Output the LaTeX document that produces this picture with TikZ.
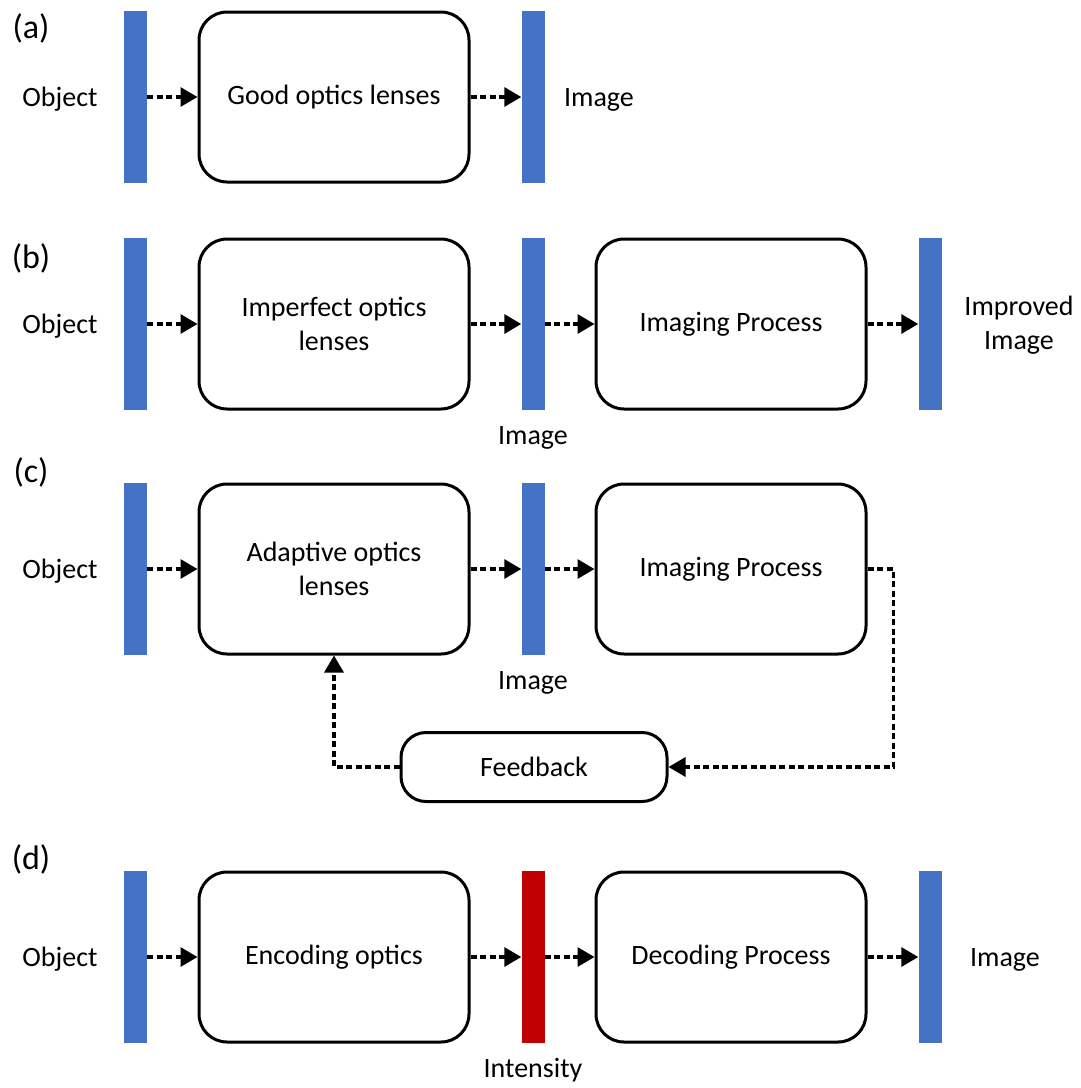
\documentclass[tikz,border=0pt]{standalone}
\usepackage{fontspec}
\setmainfont{Carlito}
\usetikzlibrary{arrows.meta}
\definecolor{barblue}{HTML}{4472C4}
\definecolor{barred}{HTML}{C00000}
\begin{document}
\begin{tikzpicture}[x=1pt,y=-1pt,
  every node/.style={font=\fontsize{28}{34}\selectfont, inner sep=0pt},
  plate/.style={fill=barblue, minimum width=23pt, minimum height=172pt},
  stage/.style={draw, line width=3pt, rounded corners=28pt,
    minimum width=270pt, minimum height=170pt, align=center},
  flow/.style={line width=3.2pt, dash pattern=on 6pt off 3.5pt,
    -{Triangle[length=17pt,width=19pt]}},
  tag/.style={anchor=base},
  panel/.style={anchor=center, font=\fontsize{34}{40}\selectfont},
]
\useasboundingbox (0,0) rectangle (1081,1088);

% (a) conventional imaging
\node[panel] (la) at (31,28) {(a)};
\node[plate] (a0) at (135.5,97) {};
\node[stage] (a1) at (334,97) {Good optics lenses};
\node[plate] (a2) at (533,97) {};
\node[tag] (ta0) at (60,106) {Object};
\node[tag] (ta2) at (599,106) {Image};
\draw[flow] (a0.east) -- (a1.west);
\draw[flow] (a1.east) -- (a2.west);

% (b) computational post-processing
\node[panel] (lb) at (31,258) {(b)};
\node[plate] (b0) at (135.5,324) {};
\node[stage] (b1) at (334,324) {Imperfect optics\\lenses};
\node[plate] (b2) at (533,324) {};
\node[stage] (b3) at (731,324) {Imaging Process};
\node[plate] (b4) at (930,324) {};
\node[tag] (tb0) at (60,333) {Object};
\node[tag] (tb2) at (533,444) {Image};
\node[align=center] (tb4) at (1019,325) {Improved\\Image};
\draw[flow] (b0.east) -- (b1.west);
\draw[flow] (b1.east) -- (b2.west);
\draw[flow] (b2.east) -- (b3.west);
\draw[flow] (b3.east) -- (b4.west);

% (c) adaptive optics with feedback loop
\node[panel] (lc) at (31,472) {(c)};
\node[plate] (c0) at (135.5,569) {};
\node[stage] (c1) at (334,569) {Adaptive optics\\lenses};
\node[plate] (c2) at (533,569) {};
\node[stage] (c3) at (731,569) {Imaging Process};
\node[tag] (tc0) at (60,578) {Object};
\node[tag] (tc2) at (533,689) {Image};
\node[draw, line width=3pt, rounded corners=25pt,
      minimum width=266pt, minimum height=69pt] (fb) at (534,767) {Feedback};
\draw[flow] (c0.east) -- (c1.west);
\draw[flow] (c1.east) -- (c2.west);
\draw[flow] (c2.east) -- (c3.west);
\draw[flow] (c3.east) -- ++(26,0) |- (fb.east);
\draw[flow] (fb.west) -| (c1.south);

% (d) coded imaging
\node[panel] (ld) at (31,859) {(d)};
\node[plate] (d0) at (135.5,957) {};
\node[stage] (d1) at (334,957) {Encoding optics};
\node[plate, fill=barred] (d2) at (533,957) {};
\node[stage] (d3) at (731,957) {Decoding Process};
\node[plate] (d4) at (930,957) {};
\node[tag] (td0) at (60,966) {Object};
\node[tag] (td2) at (533,1077) {Intensity};
\node[tag] (td4) at (1005,966) {Image};
\draw[flow] (d0.east) -- (d1.west);
\draw[flow] (d1.east) -- (d2.west);
\draw[flow] (d2.east) -- (d3.west);
\draw[flow] (d3.east) -- (d4.west);
\end{tikzpicture}
\end{document}
